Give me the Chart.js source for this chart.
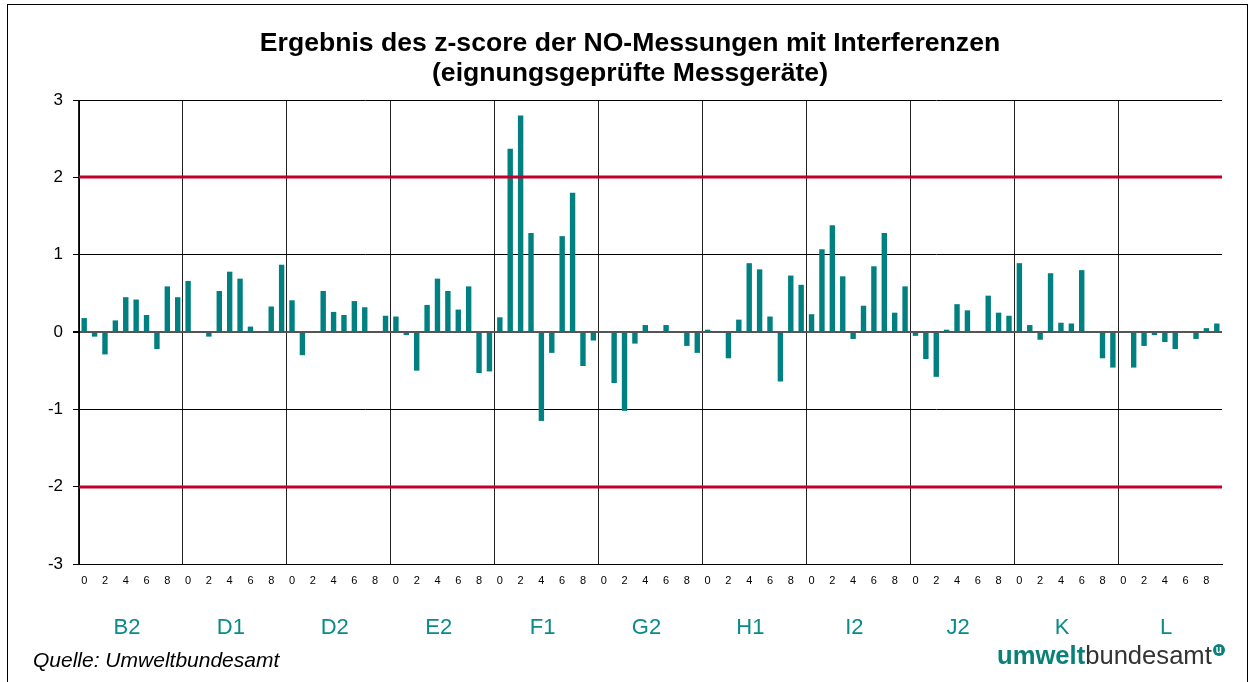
<!DOCTYPE html>
<html>
<head>
<meta charset="utf-8">
<script src="https://cdn.jsdelivr.net/npm/chart.js@4/dist/chart.umd.min.js"></script>
<style>
  body { margin: 0; background: #fff; font-family: "Liberation Sans", Arial, sans-serif; }
  #wrap { position: relative; width: 1255px; height: 682px; overflow: hidden; }
  #frame { position: absolute; left: 7px; top: 4px; width: 1241px; height: 700px; border: 1px solid #000; box-sizing: border-box; }
  .title { position: absolute; left: 0; width: 1260px; text-align: center; font-weight: bold; font-size: 26.6px; color: #000; }
  #src { position: absolute; left: 33px; top: 648px; font-style: italic; font-size: 21px; color: #000; }
  #logo { position: absolute; left: 997px; top: 641px; font-size: 25.6px; color: #333; }
  #logo b { color: #0a8078; }
  #logo .u { position: absolute; right: -13px; top: 3px; width: 12px; height: 12px; border-radius: 50%;
             background: #0a8078; color: #fff; font-size: 10px; line-height: 11px; text-align: center; font-weight: bold; }
</style>
</head>
<body>
<div id="wrap">
  <canvas id="c" width="1255" height="682"></canvas>
  <div id="frame"></div>
  <div class="title" style="top:27px">Ergebnis des z-score der NO-Messungen mit Interferenzen</div>
  <div class="title" style="top:57px">(eignungsgeprüfte Messgeräte)</div>
  <div id="src">Quelle: Umweltbundesamt</div>
  <div id="logo"><b>umwelt</b>bundesamt<span class="u">u</span></div>
</div>
<script>
const groups = ["B2", "D1", "D2", "E2", "F1", "G2", "H1", "I2", "J2", "K", "L"];
const steps = ["0", "1", "2", "3", "4", "5", "6", "7", "8", "9"];

const B2 = [0.18, -0.06, -0.29, 0.15, 0.45, 0.42, 0.22, -0.22, 0.59, 0.45];
const D1 = [0.66, 0, -0.06, 0.53, 0.78, 0.69, 0.07, 0.01, 0.33, 0.87];
const D2 = [0.41, -0.30, 0.01, 0.53, 0.26, 0.22, 0.40, 0.32, 0, 0.21];
const E2 = [0.20, -0.04, -0.50, 0.35, 0.69, 0.53, 0.29, 0.59, -0.53, -0.51];
const F1 = [0.19, 2.37, 2.80, 1.28, -1.15, -0.27, 1.24, 1.80, -0.44, -0.11];
const G2 = [0, -0.66, -1.02, -0.15, 0.09, 0, 0.09, 0, -0.18, -0.27];
const H1 = [0.03, 0.01, -0.34, 0.16, 0.89, 0.81, 0.20, -0.64, 0.73, 0.61];
const I2 = [0.23, 1.07, 1.38, 0.72, -0.09, 0.34, 0.85, 1.28, 0.25, 0.59];
const J2 = [-0.05, -0.35, -0.58, 0.03, 0.36, 0.28, 0, 0.47, 0.25, 0.21];
const K = [0.89, 0.09, -0.10, 0.76, 0.12, 0.11, 0.80, 0, -0.34, -0.46];
const L = [0, -0.46, -0.18, -0.04, -0.13, -0.22, 0, -0.09, 0.05, 0.11];

const limits = [2, -2];

const series = [B2, D1, D2, E2, F1, G2, H1, I2, J2, K, L];
const labels = [];
const values = [];
groups.forEach((g, gi) => {
  steps.forEach((s, si) => {
    labels.push(g + "-" + s);
    values.push(series[gi][si]);
  });
});

// red limit lines drawn on top of the bars
const limitLines = {
  id: "limitLines",
  afterDatasetsDraw(chart) {
    const { ctx, chartArea, scales } = chart;
    ctx.save();
    ctx.strokeStyle = "#c0002a";
    ctx.lineWidth = 3;
    limits.forEach(v => {
      const y = Math.round(scales.y.getPixelForValue(v));
      ctx.beginPath();
      ctx.moveTo(chartArea.left, y);
      ctx.lineTo(chartArea.right, y);
      ctx.stroke();
    });
    ctx.restore();
  }
};

new Chart(document.getElementById("c"), {
  type: "bar",
  data: {
    labels: labels,
    datasets: [{
      data: values,
      backgroundColor: "#008080",
      borderWidth: 0,
      barPercentage: 0.52,
      categoryPercentage: 1
    }]
  },
  options: {
    responsive: false,
    animation: false,
    layout: { padding: { left: 44, right: 33, top: 100, bottom: 30 } },
    plugins: { legend: { display: false }, tooltip: { enabled: false } },
    scales: {
      x: {
        offset: true,
        afterFit(scale) { scale.height = 24; },
        grid: {
          offset: true,
          drawTicks: false,
          color: ctx => (ctx.index % 10 === 0 ? "#222" : "rgba(0,0,0,0)"),
          lineWidth: 1
        },
        border: { color: "#000", width: 1 },
        ticks: {
          autoSkip: false,
          maxRotation: 0,
          padding: 10,
          color: "#000",
          font: { family: "Liberation Sans", size: 11 },
          callback: (val, i) => (i % 2 === 0 ? steps[i % 10] : "")
        }
      },
      x2: {
        type: "category",
        labels: groups,
        position: "bottom",
        offset: true,
        afterFit(scale) { scale.height = 64; },
        grid: { display: false },
        border: { display: false },
        ticks: {
          padding: 19,
          labelOffset: -4,
          color: "#0a8a88",
          font: { family: "Liberation Sans", size: 22 }
        }
      },
      y: {
        min: -3,
        max: 3,
        afterFit(scale) { scale.width = 35; },
        grid: {
          color: ctx => (ctx.tick.value === 0 ? "#555" : (Math.abs(ctx.tick.value) === 2 ? "rgba(0,0,0,0)" : "#000")),
          lineWidth: ctx => (ctx.tick.value === 0 ? 2 : 1),
          tickColor: "#000",
          tickLength: 6
        },
        border: { color: "#000", width: 1 },
        ticks: {
          stepSize: 1,
          padding: 10,
          color: "#000",
          font: { family: "Liberation Sans", size: 17 }
        }
      }
    }
  },
  plugins: [limitLines]
});
</script>
</body>
</html>
